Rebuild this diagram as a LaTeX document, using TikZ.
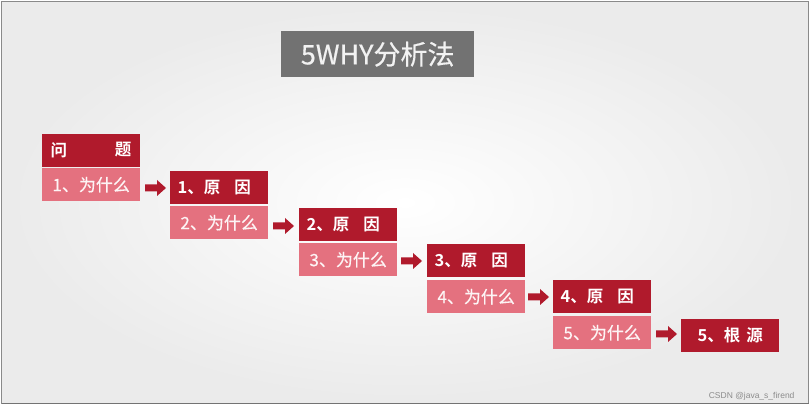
\documentclass[tikz,border=0pt]{standalone}
\usepackage{fontspec}
\newfontfamily\cjk{Noto Sans CJK SC}
\newfontfamily\cjkm[FakeBold=0.5]{Noto Sans CJK SC}
\newfontfamily\cjkb{Noto Sans CJK SC Bold}
\setsansfont{Liberation Sans}
\definecolor{darkred}{HTML}{B01A2C}
\definecolor{pinkred}{HTML}{E4717F}
\definecolor{titlegray}{HTML}{727272}
\definecolor{framegray}{HTML}{8A8A8A}
\tikzset{
  px/.style={x=1pt,y=-1pt},
  headbox/.style={fill=darkred,minimum width=98pt,minimum height=33pt,inner sep=0pt,anchor=north west,text=white,font=\cjkb\fontsize{16.5}{16.5}\selectfont},
  whybox/.style={fill=pinkred,minimum width=98pt,minimum height=33pt,inner sep=0pt,anchor=north west,text=white!92!pinkred,font=\cjkm\fontsize{17}{17}\selectfont},
}
\newcommand{\barrow}[2]{% x, y center
  \fill[darkred] (#1,#2-3.5) -- (#1+12,#2-3.5) -- (#1+12,#2-8) -- (#1+21,#2) -- (#1+12,#2+8) -- (#1+12,#2+3.5) -- (#1,#2+3.5) -- cycle;}
\begin{document}
\begin{tikzpicture}[px]
\useasboundingbox (0,0) rectangle (811,411);
\fill[white] (0,0) rectangle (811,411);
\shade[inner color=white,outer color=black!8] (1.5,1.5) rectangle (808.5,403.5);
\draw[framegray,line width=1.2pt] (1.5,1.5) rectangle (808.5,403.5);
\draw[black!55,line width=1.2pt] (1.5,403.8) -- (808.5,403.8);
% title
\node[fill=titlegray,minimum width=193pt,minimum height=46pt,inner sep=0pt,anchor=north west,text=white!95!black,font=\cjkm\fontsize{27}{27}\selectfont] (title) at (281,31) {5WHY分析法};
% boxes
\node[headbox] (h0) at (42,134) {};
\node[anchor=west,text=white,font=\cjkb\fontsize{16.5}{16.5}\selectfont] (h0a) at (47,150) {问};
\node[anchor=east,text=white,font=\cjkb\fontsize{16.5}{16.5}\selectfont] (h0b) at (135,150) {题};
\node[whybox] (w1) at (42,168) {1、为什么};
\node[headbox] (h1) at (170,171) {\hspace*{-10pt}1、原\hspace{14pt}因};
\node[whybox] (w2) at (170,206) {2、为什么};
\node[headbox] (h2) at (299,208) {\hspace*{-10pt}2、原\hspace{14pt}因};
\node[whybox] (w3) at (299,243) {3、为什么};
\node[headbox] (h3) at (427,244) {\hspace*{-10pt}3、原\hspace{14pt}因};
\node[whybox] (w4) at (427,280) {4、为什么};
\node[headbox] (h4) at (553,280) {\hspace*{-10pt}4、原\hspace{14pt}因};
\node[whybox] (w5) at (553,316) {5、为什么};
\node[headbox] (h5) at (681,319) {5、根\hspace{6pt}源};
% arrows
\barrow{145}{188}
\barrow{273}{226}
\barrow{401}{261}
\barrow{528}{297}
\barrow{656}{334}
% watermark
\node[anchor=east,text=black!45,font=\sffamily\fontsize{8.5}{9}\selectfont] (wm) at (798,396) {CSDN @java\_s\_firend};
\end{tikzpicture}
\end{document}
